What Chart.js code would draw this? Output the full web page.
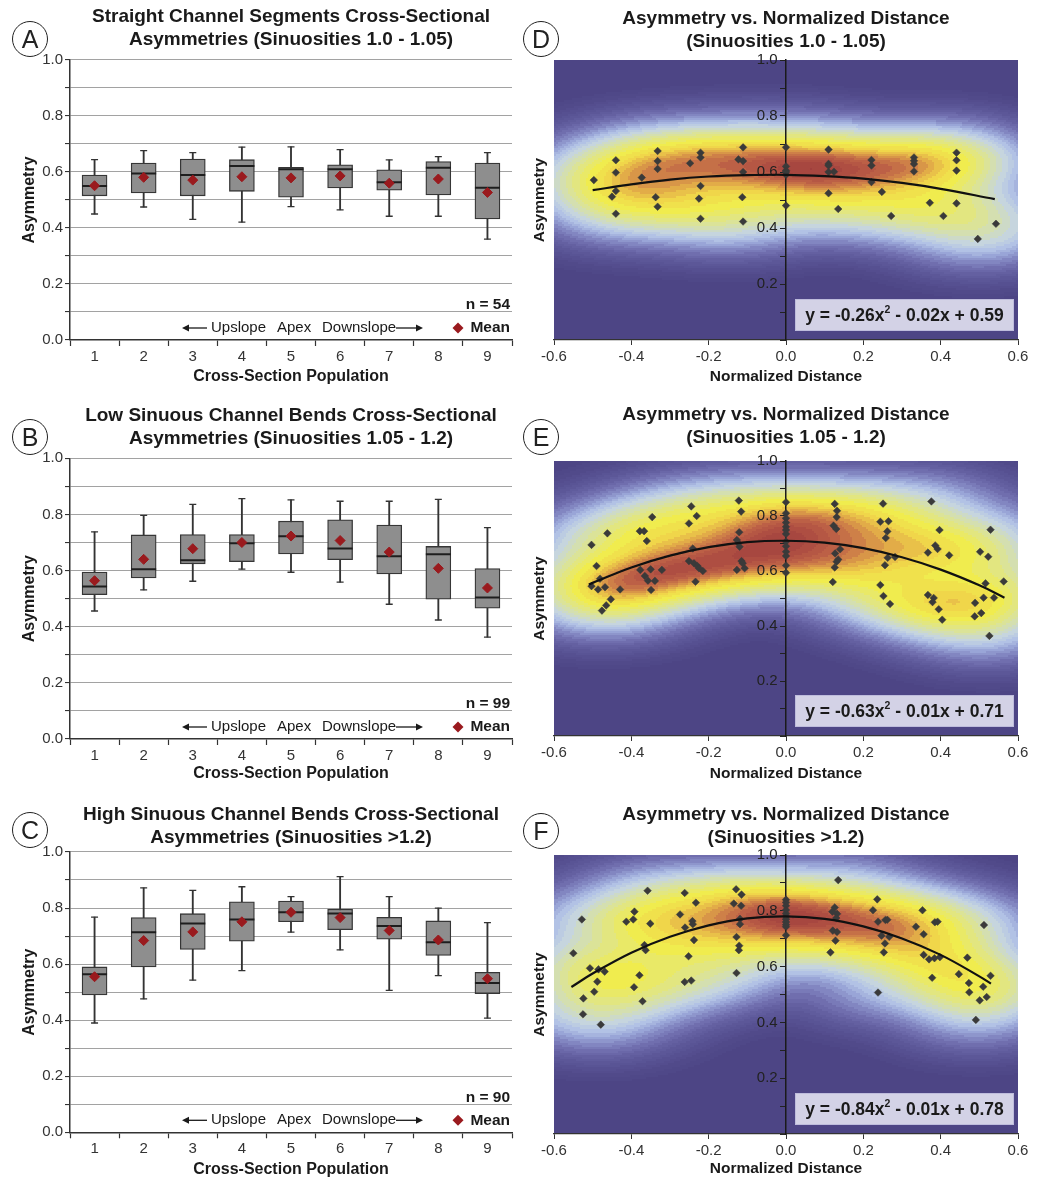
<!DOCTYPE html>
<html><head><meta charset="utf-8">
<script src="https://cdn.jsdelivr.net/npm/chart.js@4.4.1/dist/chart.umd.min.js"></script>
<style>
html,body{margin:0;padding:0;background:#fff;overflow:hidden;width:1037px;height:1179px;}
canvas{position:absolute;display:block;}
.lbl{position:absolute;width:36px;height:36px;border:1.5px solid #222;border-radius:50%;font:25px 'Liberation Sans',Arial,sans-serif;color:#222;display:flex;align-items:center;justify-content:center;box-sizing:border-box;}
</style></head><body>
<canvas id="cA" width="520" height="390" style="left:0;top:0"></canvas>
<canvas id="cB" width="520" height="389" style="left:0;top:398px"></canvas>
<canvas id="cC" width="520" height="385" style="left:0;top:798px"></canvas>
<canvas id="cD" width="517" height="390" style="left:520px;top:0"></canvas>
<canvas id="cE" width="517" height="389" style="left:520px;top:398px"></canvas>
<canvas id="cF" width="517" height="384" style="left:520px;top:798px"></canvas>
<div class="lbl" style="left:12px;top:21px">A</div>
<div class="lbl" style="left:12px;top:419px">B</div>
<div class="lbl" style="left:12px;top:812px">C</div>
<div class="lbl" style="left:523px;top:21px">D</div>
<div class="lbl" style="left:523px;top:419px">E</div>
<div class="lbl" style="left:523px;top:813px">F</div>
<script>
const FONT = "'Liberation Sans', Arial, sans-serif";

// ---------- Box plot data ----------
const categories = ['1','2','3','4','5','6','7','8','9'];
const yTickValues = [0, 0.2, 0.4, 0.6, 0.8, 1.0];

const aLow    = [0.450,0.475,0.431,0.421,0.476,0.465,0.442,0.442,0.360];
const aQ1     = [0.515,0.525,0.515,0.531,0.510,0.543,0.535,0.518,0.432];
const aMedian = [0.550,0.595,0.589,0.621,0.610,0.610,0.563,0.615,0.544];
const aQ3     = [0.589,0.632,0.646,0.644,0.617,0.626,0.608,0.637,0.632];
const aHigh   = [0.644,0.676,0.669,0.689,0.690,0.680,0.643,0.655,0.669];
const aMean   = [0.551,0.581,0.571,0.583,0.579,0.586,0.560,0.575,0.527];

const bLow    = [0.456,0.531,0.562,0.605,0.594,0.559,0.480,0.424,0.363];
const bQ1     = [0.514,0.574,0.624,0.632,0.659,0.639,0.588,0.498,0.466];
const bMedian = [0.543,0.605,0.637,0.697,0.722,0.679,0.651,0.658,0.504];
const bQ3     = [0.595,0.727,0.728,0.728,0.776,0.781,0.762,0.686,0.607];
const bHigh   = [0.738,0.797,0.836,0.856,0.852,0.847,0.847,0.854,0.753];
const bMean   = [0.564,0.640,0.678,0.700,0.723,0.707,0.666,0.608,0.538];

const cLow    = [0.390,0.476,0.543,0.577,0.714,0.651,0.506,0.559,0.407];
const cQ1     = [0.490,0.590,0.652,0.682,0.751,0.723,0.689,0.631,0.495];
const cMedian = [0.564,0.714,0.745,0.759,0.785,0.781,0.736,0.678,0.533];
const cQ3     = [0.590,0.766,0.780,0.822,0.825,0.796,0.767,0.754,0.571];
const cHigh   = [0.768,0.872,0.863,0.876,0.841,0.912,0.841,0.800,0.748];
const cMean   = [0.555,0.684,0.715,0.751,0.785,0.766,0.720,0.686,0.548];

// ---------- Scatter data ----------
const xTickLabels = ['-0.6','-0.4','-0.2','0.0','0.2','0.4','0.6'];

const dX = [-0.497,-0.44,-0.44,-0.44,-0.45,-0.44,-0.373,-0.332,-0.332,-0.332,-0.337,-0.332,-0.248,-0.221,-0.221,-0.221,-0.225,-0.221,-0.111,-0.123,-0.111,-0.111,-0.113,-0.111,
  0,0,0,0,0,0,
  0.11,0.11,0.11,0.124,0.11,0.135,0.221,0.221,0.221,0.248,0.272,0.331,0.331,0.331,0.331,0.372,0.407,0.441,0.441,0.441,0.441,0.543,0.496,0.11];
const dY = [0.571,0.642,0.598,0.532,0.512,0.451,0.58,0.675,0.639,0.611,0.51,0.476,0.631,0.669,0.652,0.55,0.505,0.433,0.688,0.645,0.639,0.6,0.51,0.423,
  0.688,0.62,0.605,0.59,0.6,0.48,
  0.68,0.629,0.623,0.601,0.524,0.468,0.643,0.623,0.564,0.529,0.443,0.652,0.64,0.629,0.602,0.49,0.443,0.669,0.642,0.605,0.488,0.415,0.361,0.60];
const dCurveX = [-0.5,-0.4,-0.3,-0.2,-0.1,0,0.1,0.2,0.3,0.4,0.54];
const dCurveY = [0.535,0.556,0.573,0.584,0.589,0.590,0.585,0.576,0.561,0.540,0.503];

const eX = [-0.503,-0.462,-0.49,-0.481,-0.503,-0.486,-0.468,-0.429,-0.453,-0.465,-0.476,-0.378,-0.367,-0.36,-0.346,-0.377,-0.35,-0.365,-0.357,-0.339,-0.349,-0.321,
  -0.245,-0.251,-0.231,-0.241,-0.251,-0.238,-0.229,-0.225,-0.215,-0.234,-0.122,-0.116,-0.121,-0.127,-0.123,-0.12,-0.115,-0.112,-0.107,-0.127,
  0,0,0,0,0,0,0,0,0,0,0,0,0,
  0.126,0.132,0.131,0.123,0.13,0.14,0.127,0.135,0.131,0.126,0.121,0.251,0.244,0.265,0.262,0.258,0.263,0.282,0.256,0.244,0.252,0.269,
  0.376,0.397,0.386,0.392,0.367,0.422,0.367,0.382,0.379,0.395,0.404,0.529,0.502,0.523,0.563,0.516,0.538,0.511,0.489,0.505,0.488,0.526];
const eY = [0.695,0.737,0.618,0.572,0.545,0.533,0.541,0.533,0.497,0.475,0.456,0.745,0.745,0.709,0.796,0.604,0.606,0.582,0.565,0.564,0.531,0.604,
  0.835,0.773,0.8,0.682,0.636,0.628,0.618,0.61,0.6,0.561,0.856,0.816,0.741,0.713,0.701,0.688,0.636,0.628,0.61,0.604,
  0.85,0.81,0.792,0.776,0.761,0.749,0.735,0.707,0.69,0.67,0.655,0.62,0.594,
  0.844,0.819,0.796,0.765,0.753,0.679,0.664,0.642,0.634,0.613,0.56,0.845,0.779,0.781,0.744,0.72,0.648,0.651,0.621,0.549,0.509,0.48,
  0.853,0.749,0.693,0.68,0.667,0.657,0.513,0.502,0.487,0.461,0.423,0.75,0.67,0.652,0.562,0.555,0.503,0.503,0.484,0.447,0.435,0.364];
const eCurveX = [-0.51,-0.4,-0.3,-0.2,-0.1,0,0.1,0.2,0.3,0.4,0.5,0.565];
const eCurveY = [0.551,0.613,0.656,0.687,0.705,0.710,0.703,0.683,0.650,0.605,0.548,0.503];

const fX = [-0.528,-0.55,-0.507,-0.485,-0.469,-0.488,-0.496,-0.524,-0.525,-0.479,-0.358,-0.392,-0.395,-0.413,-0.351,-0.366,-0.363,-0.379,-0.393,-0.371,
  -0.262,-0.233,-0.274,-0.242,-0.241,-0.261,-0.238,-0.252,-0.262,-0.245,-0.129,-0.115,-0.135,-0.116,-0.119,-0.119,-0.128,-0.121,-0.122,-0.128,
  0,0,0,0,0,0,0,0,0,0,0,
  0.135,0.126,0.12,0.132,0.13,0.121,0.132,0.128,0.115,0.236,0.225,0.238,0.257,0.262,0.247,0.267,0.256,0.253,0.238,
  0.353,0.336,0.385,0.392,0.356,0.356,0.37,0.384,0.398,0.378,0.512,0.469,0.447,0.473,0.474,0.51,0.529,0.519,0.501,0.491];
const fY = [0.769,0.648,0.594,0.59,0.582,0.546,0.51,0.486,0.429,0.392,0.872,0.797,0.769,0.761,0.754,0.677,0.659,0.569,0.526,0.476,
  0.864,0.829,0.787,0.763,0.752,0.74,0.695,0.637,0.545,0.55,0.877,0.858,0.826,0.818,0.771,0.752,0.706,0.675,0.659,0.577,
  0.84,0.83,0.818,0.803,0.79,0.78,0.77,0.76,0.75,0.743,0.712,
  0.91,0.812,0.797,0.789,0.774,0.729,0.724,0.693,0.651,0.841,0.802,0.761,0.767,0.768,0.711,0.707,0.683,0.651,0.507,
  0.802,0.743,0.759,0.761,0.716,0.642,0.626,0.63,0.634,0.56,0.749,0.632,0.573,0.541,0.508,0.528,0.567,0.491,0.479,0.409];
const fCurveX = [-0.555,-0.5,-0.4,-0.3,-0.2,-0.1,0,0.1,0.2,0.3,0.4,0.5,0.53];
const fCurveY = [0.527,0.575,0.650,0.707,0.748,0.773,0.780,0.771,0.744,0.701,0.642,0.565,0.539];

// ---------- plugins ----------
const notesPlugin = {
  id: 'notes',
  afterDraw(chart, args, o) {
    const {ctx, chartArea: a} = chart;
    ctx.save();
    ctx.fillStyle = '#1a1a1a';
    ctx.strokeStyle = '#1a1a1a';
    ctx.textBaseline = 'middle';
    ctx.font = 'bold 15.5px ' + FONT;
    ctx.textAlign = 'right';
    ctx.fillText(o.n, a.right - 2, a.bottom - 35);
    const ry = a.bottom - 12;
    ctx.font = '15px ' + FONT;
    ctx.textAlign = 'left';
    ctx.fillText('Upslope', a.left + 141, ry);
    ctx.fillText('Apex', a.left + 207, ry);
    ctx.fillText('Downslope', a.left + 252, ry);
    ctx.lineWidth = 1.3;
    ctx.beginPath(); ctx.moveTo(a.left + 116, ry); ctx.lineTo(a.left + 137, ry); ctx.stroke();
    ctx.beginPath(); ctx.moveTo(a.left + 112, ry); ctx.lineTo(a.left + 119, ry - 3.5); ctx.lineTo(a.left + 119, ry + 3.5); ctx.closePath(); ctx.fill();
    ctx.beginPath(); ctx.moveTo(a.left + 326, ry); ctx.lineTo(a.left + 349, ry); ctx.stroke();
    ctx.beginPath(); ctx.moveTo(a.left + 353, ry); ctx.lineTo(a.left + 346, ry - 3.5); ctx.lineTo(a.left + 346, ry + 3.5); ctx.closePath(); ctx.fill();
    ctx.fillStyle = '#9a1a1e';
    const mx = a.right - 54;
    ctx.beginPath(); ctx.moveTo(mx, ry - 5.5); ctx.lineTo(mx + 5.5, ry); ctx.lineTo(mx, ry + 5.5); ctx.lineTo(mx - 5.5, ry); ctx.closePath(); ctx.fill();
    ctx.fillStyle = '#1a1a1a';
    ctx.font = 'bold 15.5px ' + FONT;
    ctx.textAlign = 'right';
    ctx.fillText('Mean', a.right - 2, ry);
    ctx.restore();
  }
};

const heatStops = [
  [0.000, [77, 69, 133]],
  [0.001, [81, 74, 138]],
  [0.003, [86, 80, 145]],
  [0.007, [92, 87, 152]],
  [0.014, [100, 96, 161]],
  [0.025, [112, 110, 174]],
  [0.045, [130, 134, 193]],
  [0.075, [153, 165, 215]],
  [0.110, [178, 194, 229]],
  [0.160, [198, 213, 222]],
  [0.230, [212, 223, 176]],
  [0.320, [226, 230, 128]],
  [0.440, [240, 236, 78]],
  [0.580, [240, 214, 74]],
  [0.680, [226, 172, 72]],
  [0.760, [206, 128, 72]],
  [0.840, [188, 96, 70]],
  [0.920, [174, 78, 66]],
  [1.000, [160, 64, 62]]
];
function heatColor(t) {
  let u = heatStops.length - 1;
  for (let i = 1; i < heatStops.length; i++) {
    if (t <= heatStops[i][0]) { u = i - 1 + (t - heatStops[i - 1][0]) / (heatStops[i][0] - heatStops[i - 1][0]); break; }
  }
  const uq = Math.min(heatStops.length - 1, Math.floor(u * 2) / 2);
  const i0 = Math.min(heatStops.length - 2, Math.floor(uq)), f = uq - i0;
  const c0 = heatStops[i0][1], c1 = heatStops[i0 + 1][1];
  return 'rgb(' + c0.map((v, k) => Math.round(v + (c1[k] - v) * f)).join(',') + ')';
}
const heatPlugin = {
  id: 'heat',
  beforeDraw(chart, args, o) {
    const {ctx, chartArea: a, scales} = chart;
    const xs = scales.x, ys = scales.y;
    const pts = chart.data.datasets[1].data;
    const step = 2;
    const cols = Math.ceil((a.right - a.left) / step), rows = Math.ceil((a.bottom - a.top) / step);
    const d = new Float32Array(cols * rows);
    let max = 0;
    for (let r = 0; r < rows; r++) {
      const yv = ys.getValueForPixel(a.top + (r + 0.5) * step);
      for (let c = 0; c < cols; c++) {
        const xv = xs.getValueForPixel(a.left + (c + 0.5) * step);
        let s = 0;
        for (const p of pts) {
          const dx = (xv - p.x) / o.hx, dy = (yv - p.y) / o.hy;
          s += Math.exp(-0.5 * (dx * dx + dy * dy));
        }
        d[r * cols + c] = s;
        if (s > max) max = s;
      }
    }
    ctx.save();
    ctx.beginPath(); ctx.rect(a.left, a.top, a.right - a.left, a.bottom - a.top); ctx.clip();
    for (let r = 0; r < rows; r++) {
      for (let c = 0; c < cols; c++) {
        ctx.fillStyle = heatColor(d[r * cols + c] / max);
        ctx.fillRect(a.left + c * step, a.top + r * step, step + 0.5, step + 0.5);
      }
    }
    ctx.restore();
  }
};
const eqPlugin = {
  id: 'eq',
  afterDraw(chart, args, o) {
    const {ctx, chartArea: a} = chart;
    ctx.save();
    ctx.fillStyle = '#1a1a1a';
    ctx.font = 'bold 15.5px ' + FONT;
    ctx.textAlign = 'center'; ctx.textBaseline = 'middle';
    ctx.translate(a.left - 14, (a.top + a.bottom) / 2);
    ctx.rotate(-Math.PI / 2);
    ctx.fillText('Asymmetry', 0, 0);
    ctx.restore();
    ctx.save();
    const bx = a.right - 223, by = a.bottom - 41, bw = 219, bh = 32;
    ctx.fillStyle = 'rgba(222,221,238,0.93)';
    ctx.fillRect(bx, by, bw, bh);
    ctx.strokeStyle = 'rgba(190,188,220,1)';
    ctx.lineWidth = 1;
    ctx.strokeRect(bx + 0.5, by + 0.5, bw - 1, bh - 1);
    ctx.fillStyle = '#1a1a1a';
    ctx.textBaseline = 'middle';
    ctx.textAlign = 'left';
    const big = 'bold 17.5px ' + FONT, small = 'bold 10.5px ' + FONT;
    ctx.font = big; const w1 = ctx.measureText(o.eq[0]).width, w3 = ctx.measureText(o.eq[2]).width;
    ctx.font = small; const w2 = ctx.measureText(o.eq[1]).width;
    let x = bx + (bw - (w1 + w2 + w3)) / 2;
    const cy = by + bh / 2 + 1;
    ctx.font = big; ctx.fillText(o.eq[0], x, cy); x += w1;
    ctx.font = small; ctx.fillText(o.eq[1], x, cy - 6); x += w2;
    ctx.font = big; ctx.fillText(o.eq[2], x, cy);
    ctx.restore();
  }
};

// ---------- chart factories ----------
function titleOpts(text, padTop, padBottom) {
  return { display: true, text, fullSize: false, color: '#1a1a1a',
    font: { family: FONT, size: 19, weight: 'bold', lineHeight: 23 / 19 },
    padding: { top: padTop, bottom: padBottom } };
}

function boxChart(id, t, n, low, q1, med, q3, high, mean, padTop, padBottom, xh) {
  return new Chart(document.getElementById(id), {
    type: 'bar',
    data: {
      labels: categories,
      datasets: [
        { type: 'line', data: mean, showLine: false, pointStyle: 'rectRot', pointRadius: 5, pointHoverRadius: 5,
          backgroundColor: '#9a1a1e', borderColor: '#9a1a1e', pointBackgroundColor: '#9a1a1e', pointBorderColor: '#9a1a1e', pointBorderWidth: 1, order: 0 },
        { type: 'line', data: med, showLine: false, pointStyle: 'line', pointRadius: 12.5, pointHoverRadius: 12.5,
          borderColor: '#1e1e1e', pointBorderColor: '#1e1e1e', pointBorderWidth: 2, order: 1 },
        { type: 'bar', data: q1.map((v, i) => [v, q3[i]]), backgroundColor: '#8e8e8e', borderColor: '#363636',
          borderWidth: 1.3, borderSkipped: false, barThickness: 25, grouped: false, order: 2 },
        { type: 'line', data: high, showLine: false, pointStyle: 'line', pointRadius: 3.5, pointHoverRadius: 3.5,
          borderColor: '#333', pointBorderColor: '#333', pointBorderWidth: 1.3, order: 3 },
        { type: 'line', data: low, showLine: false, pointStyle: 'line', pointRadius: 3.5, pointHoverRadius: 3.5,
          borderColor: '#333', pointBorderColor: '#333', pointBorderWidth: 1.3, order: 3 },
        { type: 'bar', data: low.map((v, i) => [v, high[i]]), backgroundColor: '#333', borderWidth: 0,
          barThickness: 1.2, grouped: false, order: 4 }
      ]
    },
    options: {
      responsive: false, animation: false, events: [],
      layout: { autoPadding: false, padding: { left: 16, right: 8, top: 0, bottom: 0 } },
      plugins: { legend: { display: false }, tooltip: { enabled: false },
        title: titleOpts(t, padTop, padBottom), notes: { n } },
      scales: {
        x: { offset: true,
          grid: { offset: true, drawOnChartArea: false, drawTicks: true, tickLength: 6, tickColor: '#333', tickWidth: 1.2 },
          border: { color: '#333', width: 1.5 },
          ticks: { color: '#333', font: { family: FONT, size: 15 }, padding: 2 },
          title: { display: true, text: 'Cross-Section Population', color: '#1a1a1a',
            font: { family: FONT, size: 16, weight: 'bold' }, padding: { top: 4, bottom: 4 } },
          afterFit: s => { s.height = xh; } },
        y: { min: 0, max: 1,
          ticks: { stepSize: 0.1, autoSkip: false, color: '#333', font: { family: FONT, size: 15 }, padding: 2,
            callback: v => yTickValues.some(k => Math.abs(k - v) < 1e-6) ? Number(v).toFixed(1) : '' },
          grid: { color: '#a2a2a2', lineWidth: 1.1, tickLength: 5, tickColor: '#333' },
          border: { color: '#333', width: 1.5 },
          title: { display: true, text: 'Asymmetry', color: '#1a1a1a',
            font: { family: FONT, size: 16, weight: 'bold' }, padding: { top: 4, bottom: 4 } },
          afterFit: s => { s.width = 54; } }
      }
    },
    plugins: [notesPlugin]
  });
}

function scatterChart(id, t, px, py, cx, cy, eq, hx, hy, padTop, padBottom, xh) {
  return new Chart(document.getElementById(id), {
    type: 'scatter',
    data: {
      datasets: [
        { type: 'line', data: cx.map((x, i) => ({ x, y: cy[i] })), showLine: true, borderColor: '#111', borderWidth: 2.2,
          pointRadius: 0, tension: 0.4, fill: false, order: 0 },
        { data: px.map((x, i) => ({ x, y: py[i] })), pointStyle: 'rectRot', pointRadius: 3.8, pointHoverRadius: 3.8,
          backgroundColor: '#3a3a3a', borderColor: '#3a3a3a', borderWidth: 0.5, order: 1 }
      ]
    },
    options: {
      responsive: false, animation: false, events: [],
      layout: { autoPadding: false, padding: { left: 34, right: 19, top: 0, bottom: 0 } },
      plugins: { legend: { display: false }, tooltip: { enabled: false },
        title: titleOpts(t, padTop, padBottom), heat: { hx, hy }, eq: { eq } },
      scales: {
        x: { type: 'linear', min: -0.6, max: 0.6,
          ticks: { stepSize: 0.2, color: '#333', font: { family: FONT, size: 15 }, padding: 3,
            callback: (v, i) => xTickLabels[i] },
          grid: { drawOnChartArea: false, tickLength: 5, tickColor: '#333' },
          border: { color: '#333', width: 1.3 },
          title: { display: true, text: 'Normalized Distance', color: '#1a1a1a',
            font: { family: FONT, size: 15.5, weight: 'bold' }, padding: { top: 4, bottom: 4 } },
          afterFit: s => { s.height = xh; } },
        y: { type: 'linear', min: 0, max: 1, position: { x: 0 },
          ticks: { stepSize: 0.1, autoSkip: false, color: '#222', font: { family: FONT, size: 15 }, padding: 3,
            callback: v => (v > 0.05 && yTickValues.some(k => Math.abs(k - v) < 1e-6)) ? Number(v).toFixed(1) + '  ' : '' },
          grid: { drawOnChartArea: false, tickLength: 5, tickColor: '#222' },
          border: { color: '#1a1a1a', width: 1.5 } }
      }
    },
    plugins: [heatPlugin, eqPlugin]
  });
}

boxChart('cA', ['Straight Channel Segments Cross-Sectional', 'Asymmetries (Sinuosities 1.0 - 1.05)'], 'n = 54',
  aLow, aQ1, aMedian, aQ3, aHigh, aMean, 5.2, 8.8, 50);
boxChart('cB', ['Low Sinuous Channel Bends Cross-Sectional', 'Asymmetries (Sinuosities 1.05 - 1.2)'], 'n = 99',
  bLow, bQ1, bMedian, bQ3, bHigh, bMean, 6.5, 7.8, 48);
boxChart('cC', ['High Sinuous Channel Bends Cross-Sectional', 'Asymmetries (Sinuosities >1.2)'], 'n = 90',
  cLow, cQ1, cMedian, cQ3, cHigh, cMean, 5.5, 2.5, 50.7);

scatterChart('cD', ['Asymmetry vs. Normalized Distance', '(Sinuosities 1.0 - 1.05)'], dX, dY, dCurveX, dCurveY,
  ['y = -0.26x', '2', ' - 0.02x + 0.59'], 0.11, 0.065, 6.8, 7.2, 50);
scatterChart('cE', ['Asymmetry vs. Normalized Distance', '(Sinuosities 1.05 - 1.2)'], eX, eY, eCurveX, eCurveY,
  ['y = -0.63x', '2', ' - 0.01x + 0.71'], 0.11, 0.065, 5.5, 11.5, 51);
scatterChart('cF', ['Asymmetry vs. Normalized Distance', '(Sinuosities >1.2)'], fX, fY, fCurveX, fCurveY,
  ['y = -0.84x', '2', ' - 0.01x + 0.78'], 0.11, 0.065, 5.5, 5.5, 48);
</script>
</body></html>
